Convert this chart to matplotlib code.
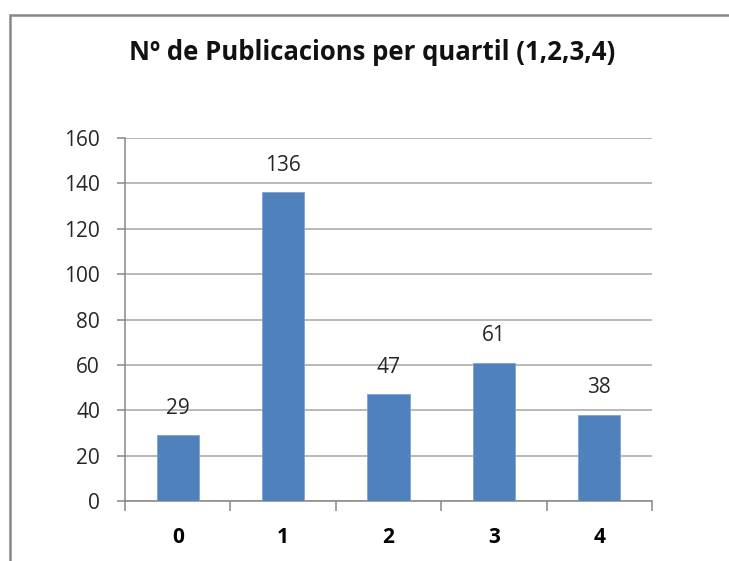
import matplotlib.pyplot as plt
from matplotlib.patches import Rectangle

plt.rcParams['font.family'] = ['Open Sans', 'DejaVu Sans']

categories = ['0', '1', '2', '3', '4']
counts = [29, 136, 47, 61, 38]
title = 'Nº de Publicacions per quartil (1,2,3,4)'

W, H = 729, 561
fig = plt.figure(figsize=(W / 100, H / 100), dpi=100)

# outer chart frame (cut off at right and bottom)
fig.patches.append(Rectangle((10 / W, -0.1), 1.2, 1 - 15 / H + 0.1,
                             transform=fig.transFigure, fill=False,
                             edgecolor='#878787', linewidth=1.8))

ax = fig.add_axes([125 / W, 1 - 501 / H, (652 - 125) / W, (501 - 138) / H])
x = list(range(len(categories)))
ax.bar(x, counts, width=0.4, color='#4F81BD', edgecolor='#7FA3D0', linewidth=0.6, zorder=3)
for xi, v in zip(x, counts):
    ax.annotate(str(v), (xi, v), xytext=(0, 19.5), textcoords='offset points',
                ha='center', va='center', fontsize=15, color='#262626')

ax.set_xlim(-0.5, len(categories) - 0.5)
ax.set_ylim(0, 160)
ax.set_yticks(range(0, 161, 20))
ax.yaxis.grid(True, color='#A6A6A6', linewidth=1.1, zorder=0)
ax.set_xticks([i + 0.5 for i in range(-1, len(categories))])
ax.set_xticklabels([])
ax.set_xticks(x, minor=True)
ax.set_xticklabels(categories, minor=True, fontsize=15, fontweight='bold')
ax.tick_params(axis='x', which='minor', length=0, pad=18.5)
ax.tick_params(axis='x', which='major', length=7, color='#878787', width=1.1)
ax.tick_params(axis='y', length=6, color='#878787', width=1.1, labelsize=15, pad=12,
               labelcolor='#262626')
for s in ['top', 'right']:
    ax.spines[s].set_visible(False)
for s in ['left', 'bottom']:
    ax.spines[s].set_color('#878787')
    ax.spines[s].set_linewidth(1.1)

fig.text(372 / W, 1 - 53 / H, title, ha='center', va='center',
         fontsize=18.5, fontweight='bold', color='#111111')

fig.savefig('out.png', dpi=100)
